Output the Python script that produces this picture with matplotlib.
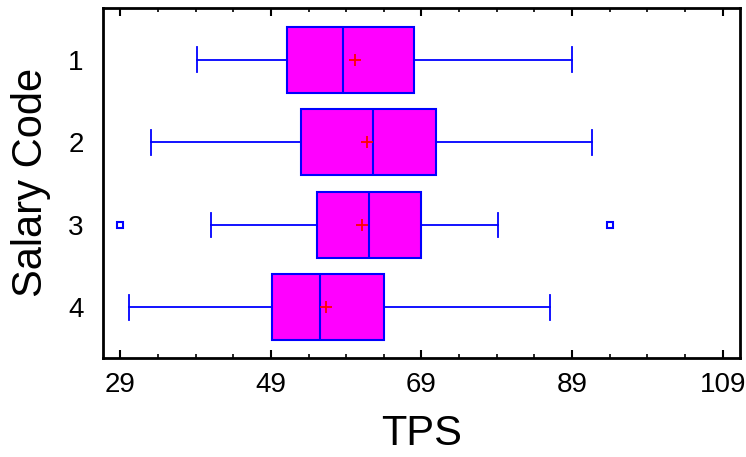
import numpy as np
import matplotlib.pyplot as plt
from matplotlib.ticker import MultipleLocator

plt.rcParams['font.family'] = ['Liberation Sans', 'DejaVu Sans']

# values
codes = ['1', '2', '3', '4']
whislo = [39.2, 33.1, 41.1, 30.2]
q1 = [51.2, 53.0, 55.1, 49.1]
med = [58.6, 62.5, 62.0, 55.5]
mean = [60.2, 61.8, 61.1, 56.3]
q3 = [68.0, 70.9, 68.9, 64.0]
whishi = [89.0, 91.7, 79.1, 86.1]
fliers = [[], [], [29.0, 94.0], []]

blue = '#0000FF'
magenta = '#FF00FF'

stats = []
for i in range(len(codes)):
    stats.append(dict(label=codes[i], whislo=whislo[i], q1=q1[i], med=med[i],
                      mean=mean[i], q3=q3[i], whishi=whishi[i], fliers=fliers[i]))

fig = plt.figure(figsize=(7.46, 4.57), dpi=100)
ax = fig.add_axes([0.138, 0.217, 0.854, 0.766])

pos = np.arange(1, len(codes) + 1)
ax.bxp(stats, positions=pos, vert=False, widths=0.8, patch_artist=True,
       showmeans=True, showfliers=True,
       boxprops=dict(facecolor=magenta, edgecolor=blue, linewidth=1.5),
       medianprops=dict(color=blue, linewidth=1.5),
       whiskerprops=dict(color=blue, linewidth=1.3),
       capprops=dict(color=blue, linewidth=1.3),
       capwidths=0.3,
       meanprops=dict(marker='+', markeredgecolor='red', markersize=9, markeredgewidth=1.3),
       flierprops=dict(marker='s', markerfacecolor='none', markeredgecolor=blue,
                       markersize=5, markeredgewidth=1.5))

ax.set_xlim(26.7, 111.3)
ax.set_ylim(4.61, 0.37)
ax.xaxis.set_minor_locator(MultipleLocator(5, offset=4))
ax.set_xticks([29, 49, 69, 89, 109])
ax.set_yticks(pos)
ax.set_yticklabels(codes)

ax.tick_params(axis='x', which='major', direction='in', length=6, width=1.5,
               top=True, labelsize=20, pad=10)
ax.tick_params(axis='x', which='minor', direction='in', length=3, width=1.2, top=True)
ax.tick_params(axis='y', length=0, labelsize=20, pad=14)

for s in ax.spines.values():
    s.set_linewidth(2)

ax.set_xlabel('TPS', fontsize=30, labelpad=12)
ax.set_ylabel('Salary Code', fontsize=30, labelpad=12)

fig.savefig('out.png', dpi=100)
